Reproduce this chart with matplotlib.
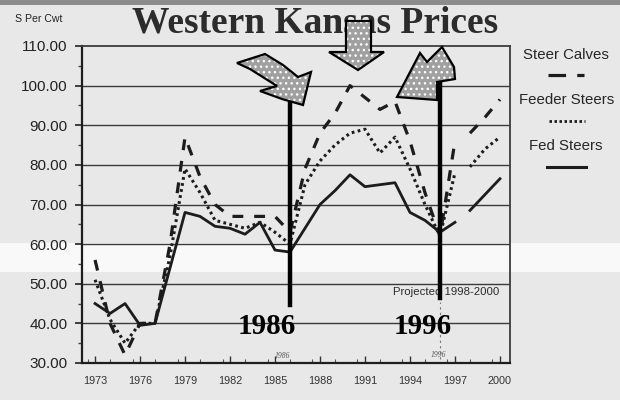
import matplotlib
matplotlib.use("Agg")
import matplotlib.pyplot as plt
from matplotlib.patches import Polygon, Rectangle
from matplotlib.ticker import MultipleLocator

# ---------------- data ----------------
years = list(range(1973, 1998))
steer_calves = [56, 40, 32, 40, 40, 60, 87, 77, 70, 67, 67, 67, 67, 63,
                79, 88, 93, 100, 97, 94, 96, 86, 73, 62, 86]
feeder_steers = [51, 41, 35, 40, 40, 57, 79, 73, 66, 65, 64, 65.5, 63, 60,
                 75, 81, 85, 88, 89, 83, 87, 79, 70, 62, 78]
fed_steers = [45, 42.5, 45, 39.5, 40, 54, 68, 67, 64.5, 64, 62.5, 65.5, 58.5, 58,
              64, 70, 73.5, 77.5, 74.5, 75, 75.5, 68, 66, 63, 65.5]

proj_years = [1998, 1999, 2000]
proj_calves = [88, 92, 96.5]
proj_feeder = [79.5, 84, 87]
proj_fed = [68.5, 72.5, 76.5]

tick_years = [1973, 1976, 1979, 1982, 1985, 1988, 1991, 1994, 1997, 2000]
y_ticks = [30, 40, 50, 60, 70, 80, 90, 100, 110]
marked_years = [1986, 1996]
series_names = ["Steer Calves", "Feeder Steers", "Fed Steers"]

SANS = ["Liberation Sans", "DejaVu Sans"]
SERIF = ["Liberation Serif", "DejaVu Serif"]
INK = "#1c1c1c"

fig = plt.figure(figsize=(6.2, 4.0), dpi=100, facecolor="#e8e8e8")

# scan artefacts: light band and dark top border
fig.patches.append(Rectangle((0, 1 - 272 / 400), 1, 29 / 400, transform=fig.transFigure,
                             facecolor="#f9f9f9", edgecolor="none", zorder=-2))
fig.patches.append(Rectangle((0, 1 - 5 / 400), 1, 5 / 400, transform=fig.transFigure,
                             facecolor="#8c8c8c", edgecolor="none", zorder=-2))

ax = fig.add_axes([82 / 620, 1 - 363 / 400, 428 / 620, 317 / 400])
ax.set_facecolor("none")
ax.set_xlim(1972.13, 2000.67)
ax.set_ylim(30, 110)

for y in y_ticks[1:-1]:
    ax.axhline(y, color="#3a3a3a", lw=1.0, zorder=1)

calves_style = dict(color=INK, lw=2.3, linestyle=(0, (3.4, 3.4)), zorder=3)
feeder_style = dict(color=INK, lw=2.2, linestyle=(0, (0.9, 1.1)), zorder=3)
fed_style = dict(color=INK, lw=2.0, linestyle="-", zorder=3)

ax.plot(years, steer_calves, **calves_style)
ax.plot(years, feeder_steers, **feeder_style)
ax.plot(years, fed_steers, **fed_style)
ax.plot(proj_years, proj_calves, **calves_style)
ax.plot(proj_years, proj_feeder, **feeder_style)
ax.plot(proj_years, proj_fed, **fed_style)

ax.set_yticks(y_ticks)
ax.set_yticklabels([f"{v:.2f}" for v in y_ticks], fontfamily=SANS, fontsize=11, color="#222222")
ax.yaxis.set_minor_locator(MultipleLocator(5))
ax.tick_params(axis="y", which="major", direction="out", length=5, width=1.2, pad=5.5, color="#222222")
ax.tick_params(axis="y", which="minor", direction="out", length=3, width=1.0, color="#444444")

ax.set_xticks(tick_years)
ax.set_xticklabels([str(v) for v in tick_years], fontfamily=SANS, fontsize=7.8, color="#333333")
ax.xaxis.set_minor_locator(MultipleLocator(1.5))
ax.tick_params(axis="x", which="major", direction="in", length=5, width=1.0, pad=9.5, color="#333333")
ax.tick_params(axis="x", which="minor", direction="in", length=3, width=0.8, color="#555555")

for side in ["left", "bottom"]:
    ax.spines[side].set_color("#1e1e1e")
    ax.spines[side].set_linewidth(1.6)
for side in ["top", "right"]:
    ax.spines[side].set_color("#3c3c3c")
    ax.spines[side].set_linewidth(1.3)

# marker lines for the two years
ax.plot([marked_years[0]] * 2, [44.6, 95.4], color="black", lw=3.2, zorder=6, clip_on=False)
ax.plot([marked_years[1]] * 2, [46.4, 101.4], color="black", lw=3.2, zorder=6, clip_on=False)
ax.plot([marked_years[1]] * 2, [31, 45.5], color="#777777", lw=0.8, linestyle=(0, (2, 3)), zorder=2)

ax.text(1996.4, 47.8, "Projected 1998-2000", fontfamily=SANS, fontsize=8.2,
        color="#2a2a2a", ha="center", va="center", zorder=4)

# ---------------- overlay in pixel coordinates ----------------
ov = fig.add_axes([0, 0, 1, 1], zorder=5)
ov.set_xlim(0, 620)
ov.set_ylim(400, 0)
ov.axis("off")
ov.patch.set_alpha(0)

fig.text(315 / 620, 1 - 23 / 400, "Western Kansas Prices", fontfamily=SERIF, fontweight="bold",
         fontsize=27, color="#2c2c2c", ha="center", va="center", zorder=2)
ov.text(15, 19, "S Per Cwt", fontfamily=SANS, fontsize=7.6, color="#222222", ha="left", va="center")

# legend
ov.text(566, 55, series_names[0], fontfamily=SANS, fontsize=10.8, color="#262626", ha="center", va="center")
ov.text(567, 100, series_names[1], fontfamily=SANS, fontsize=10.8, color="#262626", ha="center", va="center")
ov.text(566, 146, series_names[2], fontfamily=SANS, fontsize=10.8, color="#262626", ha="center", va="center")
ov.plot([548, 584], [75, 75], color=INK, lw=2.3, linestyle=(0, (5.5, 3.5)))
ov.plot([549, 585], [120.5, 120.5], color=INK, lw=2.0, linestyle=(0, (0.9, 0.9)))
ov.plot([547, 586], [167, 167], color=INK, lw=2.2)

# year labels
ov.text(267, 326, "1986", fontfamily=SERIF, fontweight="bold", fontsize=21, color="black",
        ha="center", va="center")
ov.text(423, 327, "1996", fontfamily=SERIF, fontweight="bold", fontsize=21, color="black",
        ha="center", va="center")
ov.text(282, 356, "1986", fontfamily=SERIF, style="italic", fontsize=5.5, color="#555555",
        ha="center", va="center")
ov.text(438, 355, "1996", fontfamily=SERIF, style="italic", fontsize=5.5, color="#555555",
        ha="center", va="center")

# dotted grey arrows
arrow_left = [(237, 63), (265, 54), (283, 65), (298, 77), (311, 72), (303, 105),
              (282, 99), (260, 91), (277, 86), (250, 69)]
arrow_mid = [(346, 21), (371, 21), (371, 52), (384, 52), (358, 70), (329, 52), (346, 52)]
arrow_right = [(397, 97), (420, 53), (427, 62), (442, 47), (454, 67), (455, 79),
               (437, 82), (437, 100)]
for verts in (arrow_left, arrow_mid, arrow_right):
    ov.add_patch(Polygon(verts, closed=True, facecolor="#a0a0a0", edgecolor="white",
                         hatch="...", lw=0))
    ov.add_patch(Polygon(verts, closed=True, fill=False, edgecolor="black", lw=1.6,
                         joinstyle="miter"))

fig.savefig("out.png", dpi=100, facecolor=fig.get_facecolor())
